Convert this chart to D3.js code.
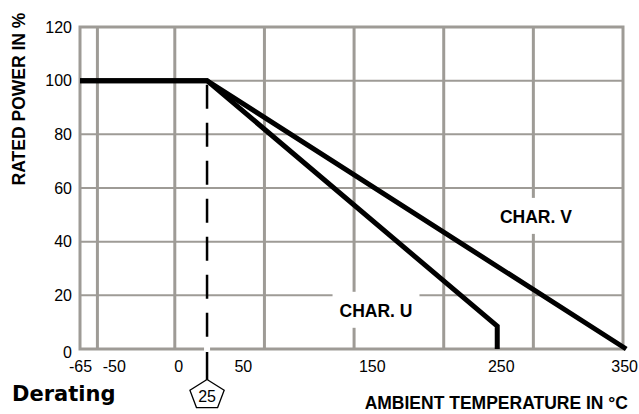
<!DOCTYPE html>
<html>
<head>
<meta charset="utf-8">
<script src="https://cdn.jsdelivr.net/npm/d3@7"></script>
<style>
  body { margin: 0; background: #fff; }
  text { font-family: "Liberation Sans", Arial, sans-serif; }
</style>
</head>
<body>
<svg width="639" height="414"></svg>
<script>
// Chart values
const tempsU = [-73.5, 25, 250, 250];
const powerU = [100, 100, 8.5, 0];
const tempsV = [-73.5, 25, 350];
const powerV = [100, 100, 0];

const xTickLabels = [-65, -50, 0, 50, 150, 250, 350];
const yTickLabels = [0, 20, 40, 60, 80, 100, 120];
const xGridValues = [-60, 0, 69.5, 139, 208.5, 278];
const yGridValues = [20, 40, 60, 80, 100];
const refTemp = 25;

const svg = d3.select("svg");
const gridColor = "#9e9b96";

// Scales
const x = d3.scaleLinear().domain([-73.5, 347.5]).range([80, 623]);
const y = d3.scaleLinear().domain([0, 120]).range([349, 27]);

// Grid lines
svg.append("g").selectAll("line")
    .data(yGridValues)
    .enter().append("line")
    .attr("x1", x.range()[0]).attr("x2", x.range()[1])
    .attr("y1", d => y(d)).attr("y2", d => y(d))
    .attr("stroke", gridColor).attr("stroke-width", 2);

svg.append("g").selectAll("line")
    .data(xGridValues)
    .enter().append("line")
    .attr("x1", d => x(d)).attr("x2", d => x(d))
    .attr("y1", y(0)).attr("y2", y(120))
    .attr("stroke", gridColor).attr("stroke-width", 3);

// Frame
svg.append("rect")
    .attr("x", x.range()[0]).attr("y", y(120))
    .attr("width", x.range()[1] - x.range()[0])
    .attr("height", y(0) - y(120))
    .attr("fill", "none")
    .attr("stroke", gridColor).attr("stroke-width", 3);

// Label backgrounds + labels
function charLabel(t, temp, power) {
    const txt = svg.append("text")
        .attr("x", x(temp)).attr("y", y(power))
        .attr("text-anchor", "middle")
        .attr("font-size", "17.5px").attr("font-weight", "bold")
        .text(t);
    const b = txt.node().getBBox();
    svg.insert("rect", "text")
        .attr("x", b.x - 7).attr("y", b.y - 9)
        .attr("width", b.width + 14).attr("height", b.height + 16)
        .attr("fill", "#fff");
}
charLabel("CHAR. U", 156, 12);
charLabel("CHAR. V", 280, 47);

// Reference dashed line at 25 °C
svg.append("rect")
    .attr("x", x(refTemp) - 3).attr("y", y(0) - 2)
    .attr("width", 6).attr("height", 4)
    .attr("fill", "#fff");
svg.append("line")
    .attr("x1", x(refTemp)).attr("x2", x(refTemp))
    .attr("y1", y(100) + 4).attr("y2", y(0) - 2)
    .attr("stroke", "#000").attr("stroke-width", 2.5)
    .attr("stroke-dasharray", "24,14");
svg.append("line")
    .attr("x1", x(refTemp)).attr("x2", x(refTemp))
    .attr("y1", y(0) + 3).attr("y2", 380)
    .attr("stroke", "#000").attr("stroke-width", 2.5);

// Pentagon marker
const cx = x(refTemp), cy = 395, rx = 18, ry = 15.5;
const pent = d3.range(5).map(i => {
    const a = -Math.PI / 2 + i * 2 * Math.PI / 5;
    return [cx + rx * Math.cos(a), cy + ry * Math.sin(a)];
});
svg.append("polygon")
    .attr("points", pent.map(p => p.join(",")).join(" "))
    .attr("fill", "#fff").attr("stroke", "#000").attr("stroke-width", 1.3);
svg.append("text")
    .attr("x", cx).attr("y", cy + 7)
    .attr("text-anchor", "middle")
    .attr("font-size", "16px")
    .text(refTemp);

// Derating curves
const line = d3.line().x(d => x(d[0])).y(d => y(d[1]));
svg.append("path")
    .datum(tempsV.map((t, i) => [t, powerV[i]]))
    .attr("d", line)
    .attr("fill", "none").attr("stroke", "#000").attr("stroke-width", 5);
svg.append("path")
    .datum(tempsU.map((t, i) => [t, powerU[i]]))
    .attr("d", line)
    .attr("fill", "none").attr("stroke", "#000").attr("stroke-width", 5);

// Tick labels
svg.append("g").selectAll("text")
    .data(yTickLabels)
    .enter().append("text")
    .attr("x", 72)
    .attr("y", d => y(d) + (d === 0 ? 3 : 0))
    .attr("dy", "0.36em")
    .attr("text-anchor", "end")
    .attr("font-size", "16px")
    .text(d => d);

const nX = xTickLabels.length;
svg.append("g").selectAll("text")
    .data(xTickLabels)
    .enter().append("text")
    .attr("x", (d, i) => i === 0 ? x.range()[0] - 11 : (i === nX - 1 ? 638 : x(d) + 4))
    .attr("y", 372)
    .attr("text-anchor", (d, i) => i === 0 ? "start" : (i === nX - 1 ? "end" : "middle"))
    .attr("font-size", "16px")
    .text(d => d);

// Axis titles
svg.append("text")
    .attr("x", 628).attr("y", 409)
    .attr("text-anchor", "end")
    .attr("font-size", "17.5px").attr("font-weight", "bold")
    .text("AMBIENT TEMPERATURE IN °C");

svg.append("text")
    .attr("transform", "translate(25, 99) rotate(-90)")
    .attr("text-anchor", "middle")
    .attr("font-size", "17.5px").attr("font-weight", "bold")
    .text("RATED POWER IN %");

svg.append("text")
    .attr("x", 12).attr("y", 401)
    .attr("font-size", "21px").attr("font-weight", "bold")
    .style("font-family", "'DejaVu Sans'")
    .text("Derating");
</script>
</body>
</html>
